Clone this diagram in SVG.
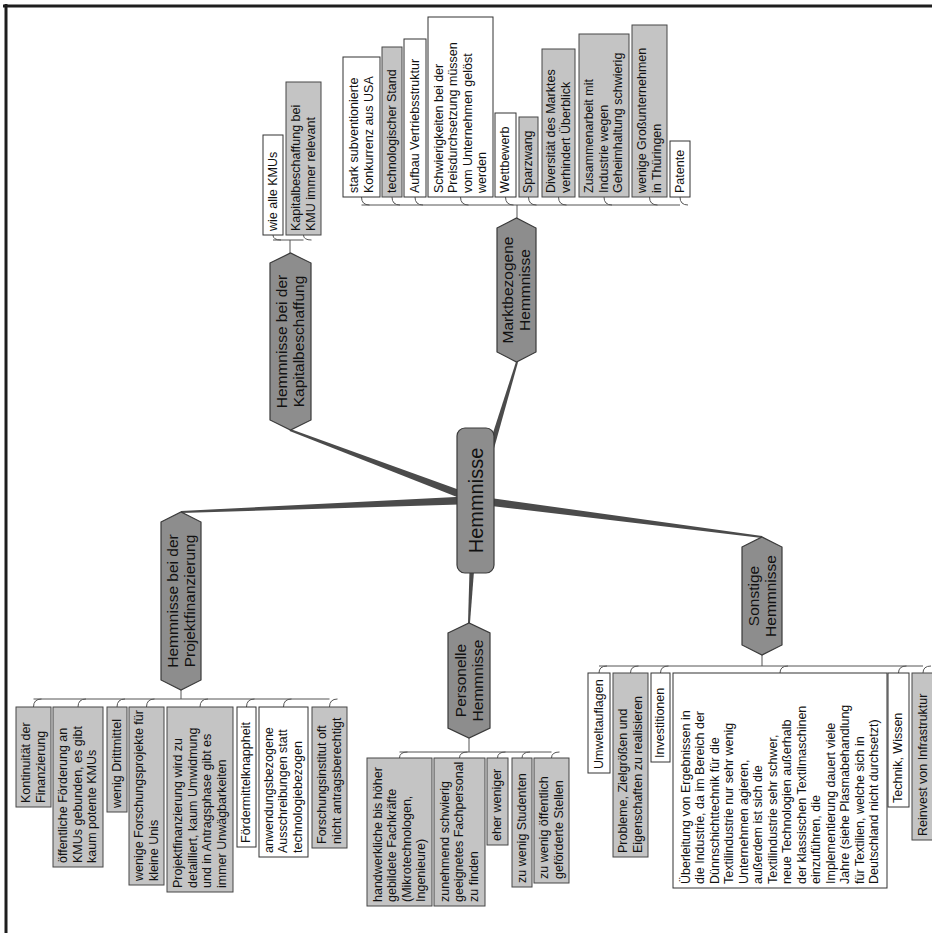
<svg xmlns="http://www.w3.org/2000/svg" width="932" height="933" viewBox="0 0 932 933">
  <style>
    .leafW { fill: #ffffff; stroke: #333333; stroke-width: 1; }
    .leafG { fill: #c4c4c4; stroke: #474747; stroke-width: 1; }
    .branch { fill: #8d8d8d; stroke: #3a3a3a; stroke-width: 1.2; }
    .lt { font-family: "Liberation Sans", Arial, sans-serif; font-size: 12.5px; fill: #111111; }
    .bt { font-family: "Liberation Sans", Arial, sans-serif; font-size: 15.5px; fill: #111111; text-anchor: middle; }
    .rt { font-family: "Liberation Sans", Arial, sans-serif; font-size: 20px; fill: #111111; text-anchor: middle; }
    .bus { fill: none; stroke: #555555; stroke-width: 1; }
    .trunk { fill: #4b4b4b; }
  </style>

  <rect x="0" y="0" width="932" height="933" fill="#ffffff"/>

  <!-- page frame -->
  <g id="frame" fill="none" stroke="#1e1e1e">
    <line x1="3" y1="6" x2="932" y2="6" stroke-width="3"/>
    <line x1="6" y1="4" x2="6" y2="933" stroke-width="3"/>
  </g>

  <!-- connectors -->
  <g id="connectors">
    <!-- tapered trunks from the central topic -->
    <polygon class="trunk" points="476.9,496.3 290.4,429.1 289.6,430.9 474.1,503.7"/>
    <polygon class="trunk" points="479.3,501.2 518,362.3 516,361.7 471.7,498.8"/>
    <polygon class="trunk" points="475.3,496 181,511 181,513 475.7,504"/>
    <polygon class="trunk" points="476,496 762.1,536 761.9,538 475,504"/>
    <polygon class="trunk" points="471.5,499.8 468,622.9 470,623.1 479.5,500.2"/>

    <!-- Kapitalbeschaffung subtopics -->
    <path class="bus" d="M290,253 V240 M273,240 H303.5"/>
    <path class="bus" d="M273,235 Q273,240 281,240 M303.5,235 Q303.5,240 311.5,240"/>

    <!-- Marktbezogene subtopics -->
    <path class="bus" d="M517,218 V205 M361.5,205 H680"/>
    <path class="bus" d="M361.5,197 Q361.5,205 369.5,205 M392,197 Q392,205 400,205 M415,197 Q415,205 423,205 M460.5,197 Q460.5,205 468.5,205 M505.5,197 Q505.5,205 513.5,205 M528.5,197 Q528.5,205 536.5,205 M558.5,197 Q558.5,205 566.5,205 M604,197 Q604,205 612,205 M649.5,197 Q649.5,205 657.5,205 M680,197 Q680,205 688,205"/>

    <!-- Projektfinanzierung subtopics -->
    <path class="bus" d="M181,690 V699 M33.5,699 H329.5"/>
    <path class="bus" d="M33.5,707 Q33.5,699 41.5,699 M78,707 Q78,699 86,699 M117,707 Q117,699 125,699 M146.5,707 Q146.5,699 154.5,699 M200,707 Q200,699 208,699 M246.5,707 Q246.5,699 254.5,699 M283.5,707 Q283.5,699 291.5,699 M329.5,707 Q329.5,699 337.5,699"/>

    <!-- Personelle subtopics -->
    <path class="bus" d="M469,738 V752 M399.5,752 H551.5"/>
    <path class="bus" d="M399.5,758 Q399.5,752 407.5,752 M459.5,758 Q459.5,752 467.5,752 M497.5,758 Q497.5,752 505.5,752 M522,758 Q522,752 530,752 M551.5,758 Q551.5,752 559.5,752"/>

    <!-- Sonstige subtopics -->
    <path class="bus" d="M762,655 V666 M599,666 H923"/>
    <path class="bus" d="M599,673 Q599,666 607,666 M630.5,673 Q630.5,666 638.5,666 M660.5,673 Q660.5,666 668.5,666 M780,673 Q780,666 788,666 M898.5,673 Q898.5,666 906.5,666 M923,673 Q923,666 931,666"/>
  </g>

  <!-- central topic -->
  <g id="root">
    <rect class="branch" x="457" y="428" width="37" height="145" rx="8"/>
    <text class="rt" transform="translate(475.5,500.5) rotate(-90)" x="0" y="7">Hemmnisse</text>
  </g>

  <!-- main topics -->
  <g id="kapital">
    <polygon class="branch" points="270,263 290.5,253 311,263 311,420 290.5,430 270,420"/>
    <text class="bt" transform="translate(290.5,341.5) rotate(-90)"><tspan x="0" y="-3.1">Hemmnisse bei der</tspan><tspan x="0" y="13.9">Kapitalbeschaffung</tspan></text>
  </g>
  <g id="markt">
    <polygon class="branch" points="497,228 516.5,218 536,228 536,352 516.5,362 497,352"/>
    <text class="bt" transform="translate(516.5,290) rotate(-90)"><tspan x="0" y="-3.1">Marktbezogene</tspan><tspan x="0" y="13.9">Hemmnisse</tspan></text>
  </g>
  <g id="projekt">
    <polygon class="branch" points="161,522 181,512 201,522 201,680 181,690 161,680"/>
    <text class="bt" transform="translate(181,601) rotate(-90)"><tspan x="0" y="-3.1">Hemmnisse bei der</tspan><tspan x="0" y="13.9">Projektfinanzierung</tspan></text>
  </g>
  <g id="sonstige">
    <polygon class="branch" points="742,547 762,537 782,547 782,645 762,655 742,645"/>
    <text class="bt" transform="translate(762,596) rotate(-90)"><tspan x="0" y="-3.1">Sonstige</tspan><tspan x="0" y="13.9">Hemmnisse</tspan></text>
  </g>
  <g id="personelle">
    <polygon class="branch" points="448,633 469,623 490,633 490,728 469,738 448,728"/>
    <text class="bt" transform="translate(469,680.5) rotate(-90)"><tspan x="0" y="-3.1">Personelle</tspan><tspan x="0" y="13.9">Hemmnisse</tspan></text>
  </g>

  <!-- Kapitalbeschaffung details -->
  <g id="k1"><rect class="leafW" x="263" y="135" width="20" height="100"/>
    <text class="lt" transform="translate(263,231) rotate(-90)"><tspan x="0" y="13.75">wie alle KMUs</tspan></text></g>
  <g id="k2"><rect class="leafG" x="286" y="82" width="35" height="153"/>
    <text class="lt" transform="translate(286,231) rotate(-90)"><tspan x="0" y="14">Kapitalbeschaffung bei</tspan><tspan x="0" y="28.5">KMU immer relevant</tspan></text></g>

  <!-- Marktbezogene details -->
  <g id="m1"><rect class="leafW" x="343" y="57" width="37" height="140"/>
    <text class="lt" transform="translate(343,193) rotate(-90)"><tspan x="0" y="15">stark subventionierte</tspan><tspan x="0" y="29.5">Konkurrenz aus USA</tspan></text></g>
  <g id="m2"><rect class="leafG" x="382" y="47" width="20" height="150"/>
    <text class="lt" transform="translate(382,193) rotate(-90)"><tspan x="0" y="13.75">technologischer Stand</tspan></text></g>
  <g id="m3"><rect class="leafW" x="404" y="39" width="22" height="158"/>
    <text class="lt" transform="translate(404,193) rotate(-90)"><tspan x="0" y="14.75">Aufbau Vertriebsstruktur</tspan></text></g>
  <g id="m4"><rect class="leafW" x="428" y="17" width="65" height="180"/>
    <text class="lt" transform="translate(428,193) rotate(-90)"><tspan x="0" y="14.5">Schwierigkeiten bei der</tspan><tspan x="0" y="29">Preisdurchsetzung müssen</tspan><tspan x="0" y="43.5">vom Unternehmen gelöst</tspan><tspan x="0" y="58">werden</tspan></text></g>
  <g id="m5"><rect class="leafW" x="495" y="113" width="21" height="84"/>
    <text class="lt" transform="translate(495,193) rotate(-90)"><tspan x="0" y="14.25">Wettbewerb</tspan></text></g>
  <g id="m6"><rect class="leafG" x="519" y="117" width="19" height="80"/>
    <text class="lt" transform="translate(519,193) rotate(-90)"><tspan x="0" y="13.25">Sparzwang</tspan></text></g>
  <g id="m7"><rect class="leafG" x="542" y="49" width="33" height="148"/>
    <text class="lt" transform="translate(542,193) rotate(-90)"><tspan x="0" y="13">Diversität des Marktes</tspan><tspan x="0" y="27.5">verhindert Überblick</tspan></text></g>
  <g id="m8"><rect class="leafG" x="579" y="34" width="50" height="163"/>
    <text class="lt" transform="translate(579,193) rotate(-90)"><tspan x="0" y="14.25">Zusammenarbeit mit</tspan><tspan x="0" y="28.75">Industrie wegen</tspan><tspan x="0" y="43.25">Geheimhaltung schwierig</tspan></text></g>
  <g id="m9"><rect class="leafG" x="632" y="25" width="35" height="172"/>
    <text class="lt" transform="translate(632,193) rotate(-90)"><tspan x="0" y="14">wenige Großunternehmen</tspan><tspan x="0" y="28.5">in Thüringen</tspan></text></g>
  <g id="m10"><rect class="leafW" x="670" y="141" width="20" height="56"/>
    <text class="lt" transform="translate(670,193) rotate(-90)"><tspan x="0" y="13.75">Patente</tspan></text></g>

  <!-- Projektfinanzierung details -->
  <g id="p1"><rect class="leafG" x="16" y="707" width="35" height="100"/>
    <text class="lt" transform="translate(16,803) rotate(-90)"><tspan x="0" y="14">Kontinuität der</tspan><tspan x="0" y="28.5">Finanzierung</tspan></text></g>
  <g id="p2"><rect class="leafG" x="53" y="707" width="50" height="160"/>
    <text class="lt" transform="translate(53,863) rotate(-90)"><tspan x="0" y="14.25">öffentliche Förderung an</tspan><tspan x="0" y="28.75">KMUs gebunden, es gibt</tspan><tspan x="0" y="43.25">kaum potente KMUs</tspan></text></g>
  <g id="p3"><rect class="leafG" x="107" y="707" width="20" height="105"/>
    <text class="lt" transform="translate(107,808) rotate(-90)"><tspan x="0" y="13.75">wenig Drittmittel</tspan></text></g>
  <g id="p4"><rect class="leafG" x="129" y="707" width="35" height="178"/>
    <text class="lt" transform="translate(129,881) rotate(-90)"><tspan x="0" y="14">wenige Forschungsprojekte für</tspan><tspan x="0" y="28.5">kleine Unis</tspan></text></g>
  <g id="p5"><rect class="leafG" x="167" y="707" width="66" height="185"/>
    <text class="lt" transform="translate(167,888) rotate(-90)"><tspan x="0" y="15">Projektfinanzierung wird zu</tspan><tspan x="0" y="29.5">detailliert, kaum Umwidmung</tspan><tspan x="0" y="44">und in Antragsphase gibt es</tspan><tspan x="0" y="58.5">immer Unwägbarkeiten</tspan></text></g>
  <g id="p6"><rect class="leafW" x="237" y="707" width="19" height="140"/>
    <text class="lt" transform="translate(237,843) rotate(-90)"><tspan x="0" y="13.25">Fördermittelknappheit</tspan></text></g>
  <g id="p7"><rect class="leafW" x="259" y="707" width="49" height="150"/>
    <text class="lt" transform="translate(259,853) rotate(-90)"><tspan x="0" y="13.75">anwendungsbezogene</tspan><tspan x="0" y="28.25">Ausschreibungen statt</tspan><tspan x="0" y="42.75">technologiebezogen</tspan></text></g>
  <g id="p8"><rect class="leafG" x="312" y="707" width="35" height="141"/>
    <text class="lt" transform="translate(312,844) rotate(-90)"><tspan x="0" y="14">Forschungsinstitut oft</tspan><tspan x="0" y="28.5">nicht antragsberechtigt</tspan></text></g>

  <!-- Personelle details -->
  <g id="e1"><rect class="leafG" x="367" y="758" width="65" height="148"/>
    <text class="lt" transform="translate(367,902) rotate(-90)"><tspan x="0" y="14.5">handwerkliche bis höher</tspan><tspan x="0" y="29">gebildete Fachkräfte</tspan><tspan x="0" y="43.5">(Mikrotechnologen,</tspan><tspan x="0" y="58">Ingenieure)</tspan></text></g>
  <g id="e2"><rect class="leafG" x="434" y="758" width="51" height="148"/>
    <text class="lt" transform="translate(434,902) rotate(-90)"><tspan x="0" y="14.75">zunehmend schwierig</tspan><tspan x="0" y="29.25">geeignetes Fachpersonal</tspan><tspan x="0" y="43.75">zu finden</tspan></text></g>
  <g id="e3"><rect class="leafG" x="487" y="758" width="21" height="87"/>
    <text class="lt" transform="translate(487,841) rotate(-90)"><tspan x="0" y="14.25">eher weniger</tspan></text></g>
  <g id="e4"><rect class="leafG" x="512" y="758" width="20" height="129"/>
    <text class="lt" transform="translate(512,883) rotate(-90)"><tspan x="0" y="13.75">zu wenig Studenten</tspan></text></g>
  <g id="e5"><rect class="leafG" x="534" y="758" width="35" height="125"/>
    <text class="lt" transform="translate(534,879) rotate(-90)"><tspan x="0" y="14">zu wenig öffentlich</tspan><tspan x="0" y="28.5">geförderte Stellen</tspan></text></g>

  <!-- Sonstige details -->
  <g id="s1"><rect class="leafW" x="588" y="673" width="22" height="100"/>
    <text class="lt" transform="translate(588,769) rotate(-90)"><tspan x="0" y="14.75">Umweltauflagen</tspan></text></g>
  <g id="s2"><rect class="leafG" x="613" y="673" width="35" height="184"/>
    <text class="lt" transform="translate(613,853) rotate(-90)"><tspan x="0" y="14">Probleme, Zielgrößen und</tspan><tspan x="0" y="28.5">Eigenschaften zu realisieren</tspan></text></g>
  <g id="s3"><rect class="leafW" x="651" y="673" width="19" height="89"/>
    <text class="lt" transform="translate(651,758) rotate(-90)"><tspan x="0" y="13.25">Investitionen</tspan></text></g>
  <g id="s4"><rect class="leafW" x="673" y="673" width="214" height="215"/>
    <text class="lt" transform="translate(673,884) rotate(-90)">
      <tspan x="0" y="16.5">Überleitung von Ergebnissen in</tspan>
      <tspan x="0" y="31">die Industrie, da im Bereich der</tspan>
      <tspan x="0" y="45.5">Dünnschichttechnik für die</tspan>
      <tspan x="0" y="60">Textilindustrie nur sehr wenig</tspan>
      <tspan x="0" y="74.5">Unternehmen agieren,</tspan>
      <tspan x="0" y="89">außerdem ist sich die</tspan>
      <tspan x="0" y="103.5">Textilindustrie sehr schwer,</tspan>
      <tspan x="0" y="118">neue Technologien außerhalb</tspan>
      <tspan x="0" y="132.5">der klassischen Textilmaschinen</tspan>
      <tspan x="0" y="147">einzuführen, die</tspan>
      <tspan x="0" y="161.5">Implementierung dauert viele</tspan>
      <tspan x="0" y="176">Jahre (siehe Plasmabehandlung</tspan>
      <tspan x="0" y="190.5">für Textilien, welche sich in</tspan>
      <tspan x="0" y="205">Deutschland nicht durchsetzt)</tspan>
    </text></g>
  <g id="s5"><rect class="leafW" x="888" y="673" width="21" height="134"/>
    <text class="lt" transform="translate(888,803) rotate(-90)"><tspan x="0" y="14.25">Technik, Wissen</tspan></text></g>
  <g id="s6"><rect class="leafG" x="912" y="673" width="22" height="167"/>
    <text class="lt" transform="translate(912,836) rotate(-90)"><tspan x="0" y="14.75">Reinvest von Infrastruktur</tspan></text></g>
</svg>
